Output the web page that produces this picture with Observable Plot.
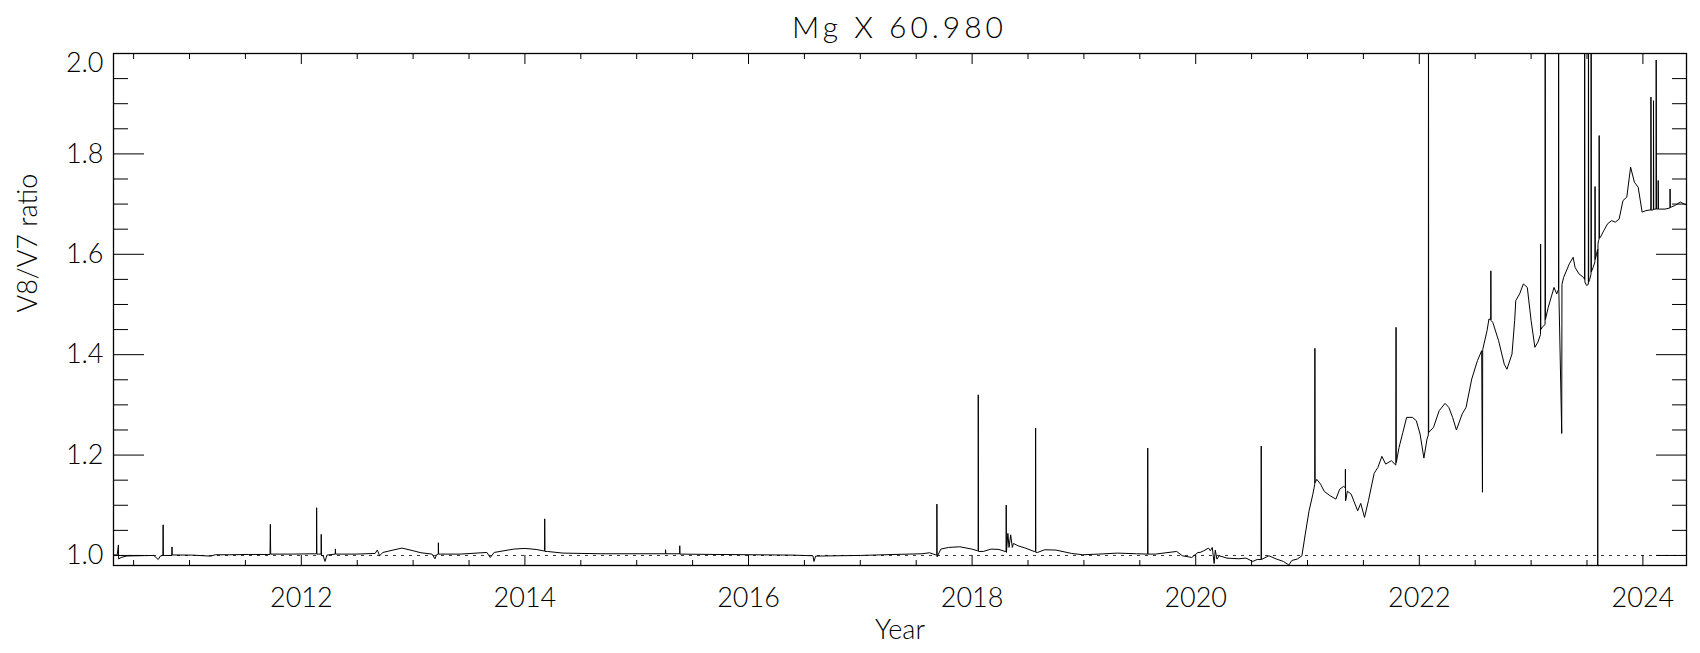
<!DOCTYPE html>
<html>
<head>
<meta charset="utf-8">
<script src="https://cdn.jsdelivr.net/npm/d3@7"></script>
<script src="https://cdn.jsdelivr.net/npm/@observablehq/plot@0.6"></script>
<style>
  html, body { margin: 0; padding: 0; background: #fff; color: #000; }
  #title {
    box-sizing: border-box; width: 1700px; height: 52px; line-height: 52px;
    padding-left: 113px; padding-right: 14px; text-align: center;
    font-family: Lato, "DejaVu Sans", sans-serif; font-weight: 300; font-size: 30px;
    letter-spacing: 4px; white-space: pre;
  }
  #chart svg { display: block; }
</style>
</head>
<body>
<div id="title">Mg X 60.980</div>
<div id="chart"></div>
<script>
const chartTitle = "Mg X 60.980";
const xLabel = "Year";
const yLabel = "V8/V7 ratio";

const years = [
  2010.322, 2010.353, 2010.364, 2010.366, 2010.388, 2010.44, 2010.54, 2010.68, 2010.72, 2010.74,
  2010.762, 2010.764, 2010.766, 2010.78, 2010.842, 2010.843, 2010.845, 2011.02, 2011.19, 2011.23,
  2011.36, 2011.53, 2011.72, 2011.723, 2011.726, 2011.91, 2012.12, 2012.136, 2012.137, 2012.139,
  2012.157, 2012.177, 2012.178, 2012.18, 2012.195, 2012.212, 2012.229, 2012.303, 2012.305, 2012.307,
  2012.49, 2012.66, 2012.68, 2012.70, 2012.73, 2012.82, 2012.90, 2013.0, 2013.07, 2013.17,
  2013.195, 2013.21, 2013.225, 2013.226, 2013.228, 2013.246, 2013.42, 2013.66, 2013.69, 2013.725,
  2013.90, 2014.0, 2014.10, 2014.16, 2014.176, 2014.177, 2014.179, 2014.20, 2014.34, 2014.68,
  2015.02, 2015.257, 2015.258, 2015.26, 2015.384, 2015.385, 2015.387, 2015.70, 2016.045, 2016.39,
  2016.576, 2016.586, 2016.60, 2016.80, 2017.0, 2017.31, 2017.55, 2017.62, 2017.67, 2017.684,
  2017.685, 2017.687, 2017.72, 2017.79, 2017.89, 2017.997, 2018.048, 2018.054, 2018.055, 2018.057,
  2018.10, 2018.17, 2018.24, 2018.295, 2018.304, 2018.305, 2018.307, 2018.32, 2018.33, 2018.345,
  2018.36, 2018.37, 2018.41, 2018.476, 2018.555, 2018.567, 2018.568, 2018.57, 2018.585, 2018.65,
  2018.75, 2018.89, 2018.99, 2019.13, 2019.30, 2019.47, 2019.570, 2019.571, 2019.573, 2019.64,
  2019.83, 2019.88, 2019.965, 2020.02, 2020.039, 2020.073, 2020.114, 2020.131, 2020.148, 2020.165,
  2020.175, 2020.19, 2020.21, 2020.28, 2020.38, 2020.45, 2020.51, 2020.55, 2020.585, 2020.586,
  2020.588, 2020.655, 2020.72, 2020.785, 2020.833, 2020.86, 2020.91, 2020.95, 2020.98, 2021.014,
  2021.048, 2021.065, 2021.066, 2021.068, 2021.083, 2021.117, 2021.15, 2021.202, 2021.254, 2021.288,
  2021.322, 2021.338, 2021.339, 2021.341, 2021.357, 2021.39, 2021.449, 2021.476, 2021.51, 2021.545,
  2021.596, 2021.63, 2021.665, 2021.699, 2021.75, 2021.79, 2021.792, 2021.794, 2021.819, 2021.853,
  2021.887, 2021.938, 2021.973, 2022.007, 2022.041, 2022.069, 2022.081, 2022.082, 2022.084, 2022.127,
  2022.178, 2022.23, 2022.264, 2022.298, 2022.332, 2022.384, 2022.418, 2022.469, 2022.52, 2022.558,
  2022.565, 2022.567, 2022.606, 2022.623, 2022.639, 2022.64, 2022.642, 2022.657, 2022.709, 2022.76,
  2022.784, 2022.829, 2022.853, 2022.863, 2022.897, 2022.931, 2022.966, 2023.0, 2023.034, 2023.061,
  2023.084, 2023.085, 2023.087, 2023.10, 2023.125, 2023.126, 2023.128, 2023.153, 2023.205, 2023.229,
  2023.245, 2023.246, 2023.248, 2023.274, 2023.276, 2023.291, 2023.342, 2023.376, 2023.393, 2023.428,
  2023.469, 2023.478, 2023.479, 2023.481, 2023.496, 2023.512, 2023.513, 2023.515, 2023.524, 2023.536,
  2023.537, 2023.539, 2023.555, 2023.571, 2023.572, 2023.574, 2023.585, 2023.595, 2023.596, 2023.598,
  2023.603, 2023.608, 2023.609, 2023.611, 2023.62, 2023.65, 2023.685, 2023.72, 2023.753, 2023.787,
  2023.822, 2023.856, 2023.89, 2023.924, 2023.958, 2023.993, 2024.027, 2024.065, 2024.071, 2024.072,
  2024.074, 2024.082, 2024.094, 2024.095, 2024.097, 2024.106, 2024.118, 2024.119, 2024.121, 2024.13,
  2024.136, 2024.137, 2024.139, 2024.147, 2024.198, 2024.236, 2024.242, 2024.243, 2024.245, 2024.253,
  2024.284, 2024.335, 2024.38
];

const ratio = [
  1.001, 1.001, 1.021, 0.993, 0.996, 0.999, 0.9994, 1.000, 0.992, 0.999,
  1.000, 1.061, 1.000, 1.000, 1.000, 1.017, 1.001, 1.0007, 0.9987, 1.0014,
  1.0014, 1.002, 1.002, 1.062, 1.0027, 1.0027, 1.0034, 1.0034, 1.095, 1.0027,
  1.0027, 1.0027, 1.042, 1.000, 0.9994, 0.988, 1.0007, 1.0027, 1.013, 1.0027,
  1.0027, 1.004, 1.011, 0.9994, 1.006, 1.0107, 1.0147, 1.0094, 1.0054, 1.0027,
  0.9934, 1.0014, 1.0027, 1.0253, 1.0027, 1.0027, 1.0027, 1.006, 0.996, 1.006,
  1.0127, 1.014, 1.012, 1.0094, 1.009, 1.073, 1.008, 1.008, 1.0047, 1.0034,
  1.0034, 1.0034, 1.0114, 1.0034, 1.0034, 1.0193, 1.0027, 1.002, 1.0014, 1.0007,
  0.9994, 0.988, 0.9987, 0.9994, 1.0, 1.002, 1.0034, 1.0054, 1.0014, 1.001,
  1.1024, 0.997, 1.0127, 1.016, 1.0173, 1.0127, 1.0094, 1.0094, 1.32, 1.008,
  1.008, 1.0127, 1.012, 1.008, 1.008, 1.1004, 1.006, 1.044, 1.016, 1.041,
  1.016, 1.024, 1.0193, 1.0147, 1.008, 1.008, 1.254, 1.006, 1.006, 1.0114,
  1.0107, 1.004, 1.0014, 1.0027, 1.0047, 1.0034, 1.0027, 1.214, 1.0027, 1.0027,
  1.008, 0.9994, 0.996, 1.006, 1.006, 1.0094, 1.0147, 1.0094, 1.016, 0.984,
  1.0107, 0.9927, 0.9994, 0.9947, 0.9934, 0.9947, 0.988, 0.992, 0.992, 1.218,
  0.992, 0.9994, 0.993, 0.988, 0.981, 0.990, 0.993, 0.9994, 1.0426, 1.089,
  1.122, 1.142, 1.4127, 1.145, 1.1516, 1.142, 1.1276, 1.119, 1.1123, 1.132,
  1.1376, 1.135, 1.172, 1.109, 1.128, 1.1223, 1.089, 1.1037, 1.0758, 1.109,
  1.1635, 1.1755, 1.1974, 1.182, 1.1888, 1.180, 1.4545, 1.185, 1.2153, 1.2452,
  1.2751, 1.2751, 1.2685, 1.2419, 1.194, 1.232, 1.24, 2.3, 1.245, 1.2552,
  1.2884, 1.303, 1.295, 1.275, 1.2499, 1.282, 1.295, 1.3515, 1.388, 1.408,
  1.126, 1.41, 1.448, 1.4711, 1.47, 1.567, 1.468, 1.4645, 1.428, 1.381,
  1.371, 1.401, 1.468, 1.5077, 1.521, 1.541, 1.534, 1.468, 1.4147, 1.425,
  1.44, 1.6205, 1.45, 1.455, 1.46, 2.3, 1.47, 1.494, 1.534, 1.521,
  1.53, 2.3, 1.53, 1.243, 1.54, 1.554, 1.581, 1.594, 1.574, 1.561,
  1.554, 1.55, 2.3, 1.545, 1.538, 1.54, 2.3, 1.545, 1.55, 1.56,
  2.3, 1.565, 1.574, 1.585, 1.735, 1.59, 1.60, 1.61, 0.9, 1.62,
  1.627, 1.63, 1.8365, 1.632, 1.634, 1.647, 1.661, 1.667, 1.664, 1.670,
  1.707, 1.714, 1.7735, 1.7436, 1.7336, 1.684, 1.687, 1.6884, 1.688, 1.913,
  1.688, 1.688, 1.689, 1.906, 1.689, 1.69, 1.69, 1.987, 1.69, 1.69,
  1.69, 1.747, 1.69, 1.690, 1.690, 1.692, 1.692, 1.730, 1.693, 1.694,
  1.697, 1.704, 1.699
];

const referenceLevel = [1.0];
const xDomain = [2010.32, 2024.39];
const yDomain = [0.98, 2.0];
const xMajorTicks = [2012, 2014, 2016, 2018, 2020, 2022, 2024];
const xMinorTicks = [2010.5, 2011, 2011.5, 2012.5, 2013, 2013.5, 2014.5, 2015, 2015.5, 2016.5, 2017, 2017.5,
  2018.5, 2019, 2019.5, 2020.5, 2021, 2021.5, 2022.5, 2023, 2023.5];
const yMajorTicks = [1.0, 1.2, 1.4, 1.6, 1.8, 2.0];
const yLabelTicks = [1.0, 1.2, 1.4, 1.6, 1.8];
const yTopLabelTick = [2.0];
const yMinorTicks = [1.05, 1.1, 1.15, 1.25, 1.3, 1.35, 1.45, 1.5, 1.55, 1.65, 1.7, 1.75, 1.85, 1.9, 1.95];

const series = years.map((t, i) => ({year: t, ratio: ratio[i]}));

const font = {fontFamily: "Lato, 'DejaVu Sans', sans-serif", fontWeight: 300};
const blank = () => "";
const fmt1 = d3.format(".1f");
const tickStyle = {tickFormat: blank, stroke: "#000", label: null};
const labelStyle = {tickSize: 0, fontSize: 27, letterSpacing: 1.5, fill: "#000", label: null, ...font};

const chart = Plot.plot({
  width: 1700,
  height: 601,
  marginTop: 1,
  marginBottom: 88,
  marginLeft: 113,
  marginRight: 14,
  style: {fontFamily: font.fontFamily, fontWeight: 300, color: "#000", background: "#fff", overflow: "visible"},
  x: {type: "linear", domain: xDomain, label: null},
  y: {type: "linear", domain: yDomain, label: null},
  marks: [
    Plot.ruleY(referenceLevel, {stroke: "#333", strokeWidth: 1, strokeDasharray: "3,5"}),
    Plot.line(series, {x: "year", y: "ratio", stroke: "#000", strokeWidth: 1, clip: true}),
    // x ticks bottom & top (inward)
    Plot.axisX(xMajorTicks, {anchor: "bottom", tickSize: -10, ...tickStyle}),
    Plot.axisX(xMinorTicks, {anchor: "bottom", tickSize: -5, ...tickStyle}),
    Plot.axisX(xMajorTicks, {anchor: "top", tickSize: -10, ...tickStyle}),
    Plot.axisX(xMinorTicks, {anchor: "top", tickSize: -5, ...tickStyle}),
    Plot.axisX(xMajorTicks, {anchor: "bottom", tickPadding: 22, tickFormat: d => String(d), ...labelStyle}),
    // y ticks left & right (inward)
    Plot.axisY(yMajorTicks, {anchor: "left", tickSize: -31, ...tickStyle}),
    Plot.axisY(yMinorTicks, {anchor: "left", tickSize: -15, ...tickStyle}),
    Plot.axisY(yMajorTicks, {anchor: "right", tickSize: -31, ...tickStyle}),
    Plot.axisY(yMinorTicks, {anchor: "right", tickSize: -15, ...tickStyle}),
    Plot.axisY(yLabelTicks, {anchor: "left", tickPadding: 10, tickFormat: fmt1, ...labelStyle}),
    Plot.axisY(yTopLabelTick, {anchor: "left", tickPadding: 10, tickFormat: fmt1, dy: 10, ...labelStyle}),
    Plot.frame({stroke: "#000", strokeWidth: 1.3}),
    Plot.text([xLabel], {frameAnchor: "bottom", dy: 65, lineAnchor: "middle", fontSize: 27,
      letterSpacing: 2.5, fill: "#000", ...font}),
    Plot.text([yLabel], {frameAnchor: "left", dx: -85, dy: 3, rotate: -90, lineAnchor: "middle",
      fontSize: 27, letterSpacing: 2, fill: "#000", ...font})
  ]
});

document.getElementById("title").textContent = chartTitle;
document.getElementById("chart").appendChild(chart);
</script>
</body>
</html>
